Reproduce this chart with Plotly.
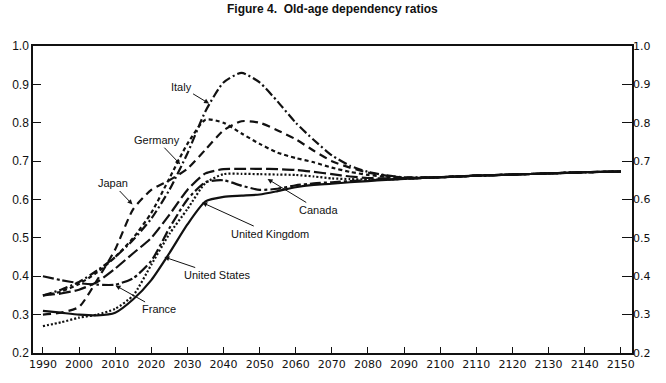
import plotly.graph_objects as go

years = [1990, 1995, 2000, 2005, 2010, 2015, 2020, 2025, 2030, 2035, 2040, 2045,
         2050, 2055, 2060, 2065, 2070, 2075, 2080, 2085, 2090, 2100, 2110, 2120,
         2130, 2140, 2150]

tail = [0.658, 0.662, 0.665, 0.668, 0.671, 0.673]

italy = [0.35, 0.365, 0.385, 0.415, 0.45, 0.495, 0.55, 0.625, 0.72, 0.83, 0.905, 0.93,
         0.905, 0.855, 0.80, 0.755, 0.715, 0.688, 0.672, 0.663, 0.658] + tail
germany = [0.35, 0.36, 0.38, 0.41, 0.45, 0.50, 0.565, 0.655, 0.745, 0.808, 0.80, 0.772,
           0.745, 0.722, 0.708, 0.697, 0.683, 0.672, 0.664, 0.659, 0.656] + tail
japan = [0.30, 0.305, 0.32, 0.39, 0.47, 0.575, 0.625, 0.65, 0.68, 0.73, 0.78, 0.804,
         0.80, 0.78, 0.757, 0.727, 0.70, 0.683, 0.67, 0.662, 0.657] + tail
canada = [0.27, 0.28, 0.292, 0.30, 0.315, 0.35, 0.43, 0.51, 0.575, 0.643, 0.666, 0.667,
          0.666, 0.665, 0.664, 0.66, 0.655, 0.653, 0.652, 0.652, 0.654] + tail
uk = [0.31, 0.305, 0.30, 0.298, 0.305, 0.34, 0.39, 0.46, 0.535, 0.595, 0.607, 0.61,
      0.613, 0.622, 0.632, 0.638, 0.641, 0.645, 0.648, 0.651, 0.654] + tail
france = [0.40, 0.39, 0.382, 0.378, 0.378, 0.395, 0.44, 0.525, 0.60, 0.645, 0.65, 0.636,
          0.625, 0.628, 0.637, 0.642, 0.645, 0.648, 0.65, 0.652, 0.654] + tail
us = [0.35, 0.355, 0.365, 0.385, 0.42, 0.46, 0.50, 0.56, 0.625, 0.668, 0.679, 0.68,
      0.68, 0.679, 0.677, 0.672, 0.666, 0.66, 0.656, 0.655, 0.655] + tail

series = [
    ("Italy", italy, "9px,3px,2px,3px"),
    ("Germany", germany, "4px,3px"),
    ("Japan", japan, "8px,5px"),
    ("Canada", canada, "2px,2px"),
    ("United Kingdom", uk, "solid"),
    ("France", france, "11px,3px,3px,3px"),
    ("United States", us, "12px,4px"),
]

# label text, arrow tip (year, value), text offset in px
labels = [
    ("Italy", 2036.0, 0.850, -28, -17),
    ("Germany", 2028.0, 0.692, -23, -24),
    ("Japan", 2014.8, 0.587, -20, -21),
    ("Canada", 2052.2, 0.6535, 51, 31),
    ("United Kingdom", 2034.1, 0.592, 68, 31),
    ("United States", 2023.6, 0.450, 53, 18),
    ("France", 2010.1, 0.376, 43, 24),
]

fig = go.Figure()
for name, vals, dash in series:
    fig.add_trace(go.Scatter(
        x=years, y=vals, mode="lines", name=name,
        line=dict(color="#111111", width=2.2, dash=dash, shape="spline", smoothing=0.6),
        showlegend=False,
    ))
# invisible trace for right axis
fig.add_trace(go.Scatter(x=[years[0]], y=[0.2], yaxis="y2", mode="markers",
                         marker=dict(opacity=0), showlegend=False, hoverinfo="skip"))

annotations = []
for text, x, y, ax, ay in labels:
    annotations.append(dict(
        x=x, y=y, xref="x", yref="y", text=text, showarrow=True,
        ax=ax, ay=ay, arrowhead=2, arrowsize=1, arrowwidth=1, arrowcolor="#111111",
        standoff=0, font=dict(family="Liberation Sans", size=11, color="#111111"),
    ))
annotations.append(dict(
    x=0.5, y=1.122, xref="paper", yref="paper", text="<b>Figure 4.  Old-age dependency ratios</b>",
    showarrow=False, xanchor="center", yanchor="middle",
    font=dict(family="Liberation Sans", size=12, color="#111111"),
))

tickvals_y = [0.2, 0.3, 0.4, 0.5, 0.6, 0.7, 0.8, 0.9, 1.0]
fig.update_layout(
    width=666, height=383,
    margin=dict(l=30, r=34, t=46, b=23),
    paper_bgcolor="white", plot_bgcolor="white",
    xaxis=dict(
        range=[1987.25, 2153.1], tickvals=list(range(1990, 2151, 10)),
        ticks="inside", ticklen=6, tickwidth=1, tickcolor="#111111",
        showline=True, linecolor="#111111", linewidth=1.5, mirror=True,
        showgrid=False, zeroline=False,
        tickfont=dict(family="DejaVu Sans", size=11, color="#111111"),
    ),
    yaxis=dict(
        range=[0.2, 1.0], tickvals=tickvals_y, tickformat=".1f",
        ticks="inside", ticklen=8, tickwidth=1, tickcolor="#111111",
        showline=True, linecolor="#111111", linewidth=1.5, mirror=True,
        showgrid=False, zeroline=False,
        tickfont=dict(family="Liberation Sans", size=12, color="#111111"),
    ),
    yaxis2=dict(
        range=[0.2, 1.0], tickvals=tickvals_y, tickformat=".1f",
        overlaying="y", side="right",
        ticks="inside", ticklen=10, tickwidth=1, tickcolor="#111111",
        showline=False, showgrid=False, zeroline=False,
        tickfont=dict(family="DejaVu Sans", size=11, color="#111111"),
    ),
    annotations=annotations,
)

fig.write_html("out.html")
